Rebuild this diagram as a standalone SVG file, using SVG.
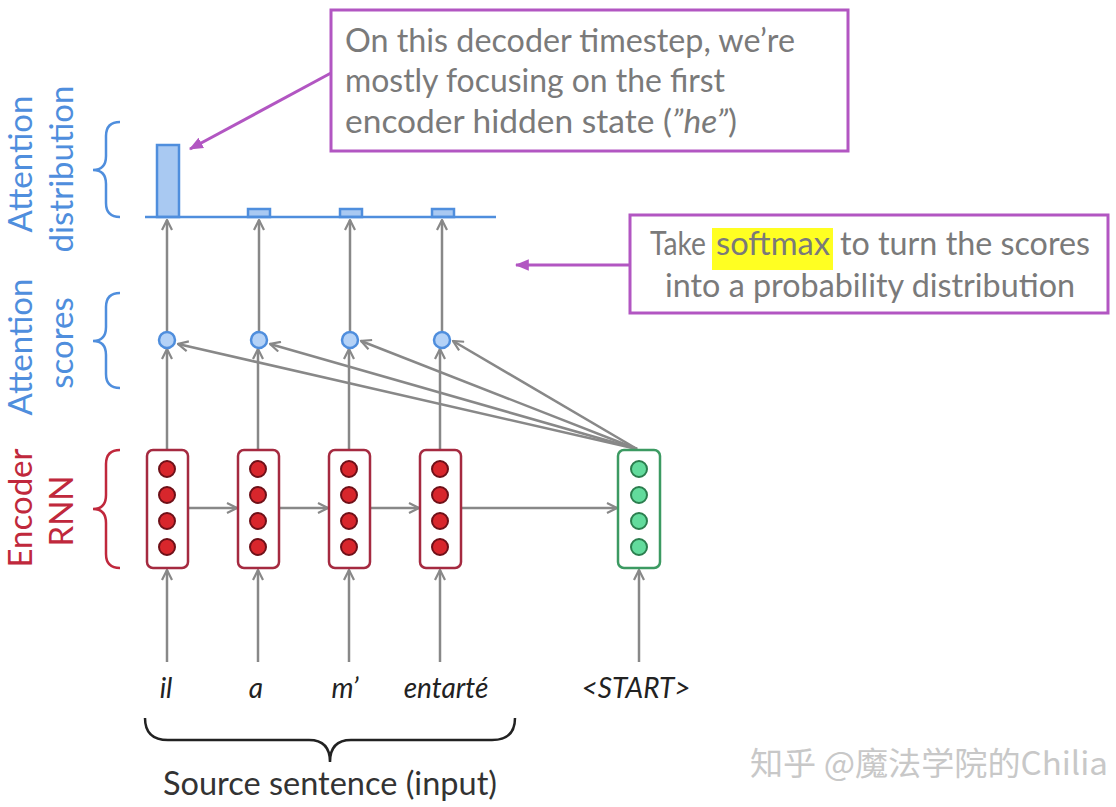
<svg xmlns="http://www.w3.org/2000/svg" width="1116" height="807" viewBox="0 0 1116 807">
<defs>
<marker id="ag" viewBox="0 0 12 12" refX="11" refY="6" markerWidth="12" markerHeight="12" markerUnits="userSpaceOnUse" orient="auto">
<path d="M1,1 L11,6 L1,11" fill="none" stroke="#888" stroke-width="2.2"/>
</marker>
<marker id="ap" viewBox="0 0 12 12" refX="11" refY="6" markerWidth="14" markerHeight="14" markerUnits="userSpaceOnUse" orient="auto">
<path d="M0,1 L12,6 L0,11 Z" fill="#B256C2"/>
</marker>
<style>
.conn{stroke:#888;stroke-width:2.5;fill:none;marker-end:url(#ag)}
.callout{fill:#fff;stroke:#B256C2;stroke-width:3}
.ctext{font-family:Lato,"Open Sans",sans-serif;font-size:32px;fill:#7a7a7a}
.blue{font-family:Lato,"Open Sans",sans-serif;font-size:33px;fill:#4F8EDD}
.red{font-family:Lato,"Open Sans",sans-serif;font-size:33px;fill:#C0283C}
.word{font-family:Lato,"Open Sans",sans-serif;font-size:28px;font-style:italic;fill:#222}
.bar{fill:#A9C9F2;stroke:#4F8EDD;stroke-width:2.5}
.score{fill:#B4D2F7;stroke:#4F8EDD;stroke-width:2.5}
.enc{fill:#fff;stroke:#A52A40;stroke-width:2.5}
.encdot{fill:#D8262C;stroke:#6E1018;stroke-width:2}
.dec{fill:#fff;stroke:#3C9A62;stroke-width:2.5}
.decdot{fill:#62DB9C;stroke:#2B7E4E;stroke-width:2}
</style>
</defs>
<rect width="1116" height="807" fill="#fff"/>

<!-- side labels and braces -->
<g id="label-distribution">
<text class="blue" text-anchor="middle" transform="translate(32,164) rotate(-90)">Attention</text>
<text class="blue" text-anchor="middle" transform="translate(73,169) rotate(-90)">distribution</text>
<path d="M120,122 Q106,122 106,136 L106,156 Q106,170 93,170 Q106,170 106,184 L106,203 Q106,217 120,217" fill="none" stroke="#4F8EDD" stroke-width="2.5"/>
</g>
<g id="label-scores">
<text class="blue" text-anchor="middle" transform="translate(32,347) rotate(-90)">Attention</text>
<text class="blue" text-anchor="middle" transform="translate(73,343) rotate(-90)">scores</text>
<path d="M120,293 Q106,293 106,307 L106,327 Q106,341 93,341 Q106,341 106,355 L106,374 Q106,388 120,388" fill="none" stroke="#4F8EDD" stroke-width="2.5"/>
</g>
<g id="label-encoder">
<text class="red" text-anchor="middle" transform="translate(32,508) rotate(-90)">Encoder</text>
<text class="red" text-anchor="middle" transform="translate(73,511) rotate(-90)">RNN</text>
<path d="M120,450 Q106,450 106,464 L106,495 Q106,509 93,509 Q106,509 106,523 L106,554 Q106,568 120,568" fill="none" stroke="#C0283C" stroke-width="2.5"/>
</g>

<!-- attention distribution -->
<g id="distribution">
<rect class="bar" x="157" y="145" width="22" height="72"/>
<rect class="bar" x="248" y="209" width="22" height="8"/>
<rect class="bar" x="340" y="209" width="22" height="8"/>
<rect class="bar" x="432" y="209" width="22" height="8"/>
<line x1="145" y1="217" x2="496" y2="217" stroke="#4F8EDD" stroke-width="2.5"/>
</g>

<!-- connectors -->
<g id="connectors">
<line class="conn" x1="167" y1="331" x2="167" y2="220"/>
<line class="conn" x1="259" y1="331" x2="259" y2="220"/>
<line class="conn" x1="350" y1="331" x2="350" y2="220"/>
<line class="conn" x1="442" y1="331" x2="442" y2="220"/>
<line class="conn" x1="167" y1="450" x2="167" y2="349"/>
<line class="conn" x1="258" y1="450" x2="258" y2="349"/>
<line class="conn" x1="349" y1="450" x2="349" y2="349"/>
<line class="conn" x1="440" y1="450" x2="440" y2="349"/>
<line class="conn" x1="637" y1="449" x2="178" y2="344"/>
<line class="conn" x1="637" y1="449" x2="270" y2="344"/>
<line class="conn" x1="637" y1="449" x2="361" y2="341"/>
<line class="conn" x1="637" y1="449" x2="453" y2="341"/>
<line class="conn" x1="188" y1="508" x2="237" y2="508"/>
<line class="conn" x1="279" y1="508" x2="328" y2="508"/>
<line class="conn" x1="370" y1="508" x2="419" y2="508"/>
<line class="conn" x1="461" y1="508" x2="617" y2="508"/>
<line class="conn" x1="167" y1="662" x2="167" y2="570"/>
<line class="conn" x1="258" y1="662" x2="258" y2="570"/>
<line class="conn" x1="349" y1="662" x2="349" y2="570"/>
<line class="conn" x1="440" y1="662" x2="440" y2="570"/>
<line class="conn" x1="639" y1="662" x2="639" y2="570"/>
<line x1="331" y1="73" x2="190" y2="149" stroke="#B256C2" stroke-width="3" marker-end="url(#ap)"/>
<line x1="630" y1="265" x2="516" y2="265" stroke="#B256C2" stroke-width="3" marker-end="url(#ap)"/>
</g>

<!-- attention scores -->
<g id="scores">
<circle class="score" cx="167" cy="340" r="8"/>
<circle class="score" cx="259" cy="340" r="8"/>
<circle class="score" cx="350" cy="340" r="8"/>
<circle class="score" cx="442" cy="340" r="8"/>
</g>

<!-- encoder cells -->
<g id="enc-1">
<rect class="enc" x="147" y="450" width="41" height="118" rx="6"/>
<circle class="encdot" cx="167" cy="469" r="8"/><circle class="encdot" cx="167" cy="495" r="8"/><circle class="encdot" cx="167" cy="521" r="8"/><circle class="encdot" cx="167" cy="547" r="8"/>
</g>
<g id="enc-2">
<rect class="enc" x="238" y="450" width="41" height="118" rx="6"/>
<circle class="encdot" cx="258" cy="469" r="8"/><circle class="encdot" cx="258" cy="495" r="8"/><circle class="encdot" cx="258" cy="521" r="8"/><circle class="encdot" cx="258" cy="547" r="8"/>
</g>
<g id="enc-3">
<rect class="enc" x="329" y="450" width="41" height="118" rx="6"/>
<circle class="encdot" cx="349" cy="469" r="8"/><circle class="encdot" cx="349" cy="495" r="8"/><circle class="encdot" cx="349" cy="521" r="8"/><circle class="encdot" cx="349" cy="547" r="8"/>
</g>
<g id="enc-4">
<rect class="enc" x="420" y="450" width="41" height="118" rx="6"/>
<circle class="encdot" cx="440" cy="469" r="8"/><circle class="encdot" cx="440" cy="495" r="8"/><circle class="encdot" cx="440" cy="521" r="8"/><circle class="encdot" cx="440" cy="547" r="8"/>
</g>
<g id="dec-1">
<rect class="dec" x="618" y="450" width="42" height="118" rx="6"/>
<circle class="decdot" cx="639" cy="469" r="8"/><circle class="decdot" cx="639" cy="495" r="8"/><circle class="decdot" cx="639" cy="521" r="8"/><circle class="decdot" cx="639" cy="547" r="8"/>
</g>

<!-- input words -->
<g id="words">
<text class="word" x="166" y="698" text-anchor="middle">il</text>
<text class="word" x="256" y="698" text-anchor="middle">a</text>
<text class="word" x="345" y="698" text-anchor="middle">m’</text>
<text class="word" x="446" y="698" text-anchor="middle">entarté</text>
<text class="word" x="636" y="698" text-anchor="middle">&lt;START&gt;</text>
</g>

<g id="source-brace">
<path d="M145,718 Q145,740 168,740 L309,740 Q330,740 330,762 Q330,740 351,740 L492,740 Q515,740 515,718" fill="none" stroke="#222" stroke-width="2.5"/>
<text x="330" y="795" text-anchor="middle" font-family="Lato, 'Open Sans', sans-serif" font-size="32.5" fill="#333">Source sentence (input)</text>
</g>

<!-- callouts -->
<g id="callout-focus">
<rect class="callout" x="331" y="10" width="517" height="141"/>
<text class="ctext" x="345" y="52" textLength="450" lengthAdjust="spacingAndGlyphs">On this decoder timestep, we’re</text>
<text class="ctext" x="345" y="92" textLength="380" lengthAdjust="spacingAndGlyphs">mostly focusing on the first</text>
<text class="ctext" x="345" y="133" textLength="392" lengthAdjust="spacingAndGlyphs">encoder hidden state (<tspan font-style="italic">”he”</tspan>)</text>
</g>
<g id="callout-softmax">
<rect class="callout" x="630" y="215" width="478" height="98"/>
<rect x="712" y="228" width="121" height="42" fill="#FFFF22"/>
<text class="ctext" x="650" y="255" textLength="56" lengthAdjust="spacingAndGlyphs">Take</text>
<text class="ctext" x="716" y="255" textLength="114" lengthAdjust="spacingAndGlyphs" fill="#6e6e3a">softmax</text>
<text class="ctext" x="840" y="255" textLength="250" lengthAdjust="spacingAndGlyphs">to turn the scores</text>
<text class="ctext" x="665" y="297" textLength="410" lengthAdjust="spacingAndGlyphs">into a probability distribution</text>
</g>

<g id="watermark">
<text x="750" y="775" font-family="'Noto Sans CJK SC', sans-serif" font-size="32" fill="#c8c8c8" textLength="358" lengthAdjust="spacingAndGlyphs">知乎 @魔法学院的Chilia</text>
</g>
</svg>
